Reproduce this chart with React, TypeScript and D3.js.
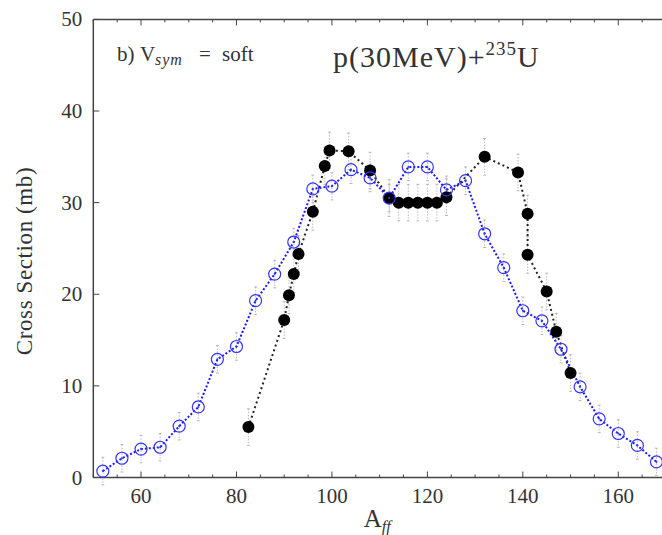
import React from "react";
import * as d3 from "d3";

const W = 662;
const H = 535;

// Black filled points (experiment)
const blackA = [82.5, 90, 91, 92, 93, 96, 98.5, 99.5, 103.5, 108, 112, 114, 116, 118, 120, 122, 124, 132, 139, 141, 141, 145, 147, 150];
const blackY = [5.5, 17.2, 19.9, 22.2, 24.4, 29.0, 34.0, 35.7, 35.6, 33.5, 30.5, 30.0, 30.0, 30.0, 30.0, 30.0, 30.6, 35.0, 33.3, 28.8, 24.3, 20.3, 15.9, 11.4];
const blackErr = 2.0;

// Blue open circles (model)
const blueA = [52, 56, 60, 64, 68, 72, 76, 80, 84, 88, 92, 96, 100, 104, 108, 112, 116, 120, 124, 128, 132, 136, 140, 144, 148, 152, 156, 160, 164, 168];
const blueY = [0.7, 2.1, 3.1, 3.3, 5.6, 7.7, 12.9, 14.3, 19.3, 22.2, 25.7, 31.5, 31.8, 33.6, 32.7, 30.5, 33.9, 33.9, 31.4, 32.4, 26.6, 22.9, 18.2, 17.1, 14.0, 9.9, 6.4, 4.8, 3.5, 1.7];
const blueErr = 1.5;

const xMajor = [60, 80, 100, 120, 140, 160];
const yMajor = [0, 10, 20, 30, 40, 50];

const FONT = "'Liberation Serif', 'Times New Roman', serif";

export default function App() {
  const left = 93.3, right = 666, top = 19.4, bottom = 477.5;
  const x = d3.scaleLinear().domain([50, 170]).range([left, right]);
  const y = d3.scaleLinear().domain([0, 50]).range([bottom, top]);

  const xMinor = d3.range(50, 171, 5);

  const line = d3.line<[number, number]>().x(d => x(d[0])).y(d => y(d[1]));
  const blackPts: [number, number][] = blackA.map((a, i) => [a, blackY[i]]);
  const bluePts: [number, number][] = blueA.map((a, i) => [a, blueY[i]]);

  const axisColor = "#444";
  const textColor = "#333";
  const ts = { fontFamily: FONT };

  const errBars = (pts: [number, number][], err: number, key: string) =>
    pts.map((p, i) => {
      const cx = x(p[0]);
      const y1 = y(p[1] + err), y2 = y(p[1] - err);
      return (
        <g key={key + i} stroke="#aaa" strokeWidth={0.8}>
          <line x1={cx} x2={cx} y1={y1} y2={y2} strokeDasharray="1.5,1.5" />
          <line x1={cx - 1.5} x2={cx + 1.5} y1={y1} y2={y1} />
          <line x1={cx - 1.5} x2={cx + 1.5} y1={y2} y2={y2} />
        </g>
      );
    });

  return (
    <svg width={W} height={H} style={{ position: "absolute", left: 0, top: 0, background: "#fff" }}>
      <rect x={0} y={0} width={W} height={H} fill="#fff" />
      {/* frame */}
      <line x1={left} x2={right} y1={top} y2={top} stroke={axisColor} strokeWidth={1.5} />
      <line x1={left} x2={right} y1={bottom} y2={bottom} stroke={axisColor} strokeWidth={1.5} />
      <line x1={left} x2={left} y1={top} y2={bottom} stroke={axisColor} strokeWidth={1.5} />
      {/* x ticks */}
      {xMinor.map(v => {
        const major = xMajor.includes(v);
        const len = major ? 6 : 3;
        return (
          <g key={"xt" + v} stroke={axisColor} strokeWidth={1}>
            <line x1={x(v)} x2={x(v)} y1={bottom} y2={bottom - len} />
            <line x1={x(v)} x2={x(v)} y1={top} y2={top + len} />
          </g>
        );
      })}
      {xMajor.map(v => (
        <text key={"xl" + v} x={x(v)} y={bottom + 25} textAnchor="middle" fontSize={21} fill={textColor} style={ts}>
          {v}
        </text>
      ))}
      {/* y ticks */}
      {yMajor.map(v => (
        <g key={"yt" + v}>
          <line x1={left} x2={left + 6} y1={y(v)} y2={y(v)} stroke={axisColor} strokeWidth={1} />
          <text x={left - 11} y={y(v) + 7} textAnchor="end" fontSize={21} fill={textColor} style={ts}>
            {v}
          </text>
        </g>
      ))}
      {/* axis labels */}
      <text transform={`translate(32, 261) rotate(-90)`} textAnchor="middle" fontSize={23} letterSpacing={0.6} fill={textColor} style={ts}>
        Cross Section (mb)
      </text>
      <text x={x(110) - 16} y={527} fontSize={25} fill={textColor} style={ts}>
        A<tspan fontStyle="italic" fontSize={16} dy={5}>ff</tspan>
      </text>

      {/* error bars */}
      {errBars(blackPts, blackErr, "be")}
      {errBars(bluePts, blueErr, "ue")}

      {/* lines */}
      <path d={line(blackPts) || ""} fill="none" stroke="#222" strokeWidth={2} strokeDasharray="2,3" />
      <path d={line(bluePts) || ""} fill="none" stroke="#1a1aff" strokeWidth={2} strokeDasharray="2,2" />

      {/* points */}
      {blackPts.map((p, i) => (
        <circle key={"bp" + i} cx={x(p[0])} cy={y(p[1])} r={6} fill="#000" />
      ))}
      {bluePts.map((p, i) => (
        <g key={"up" + i}>
          <circle cx={x(p[0])} cy={y(p[1])} r={6} fill="none" stroke="#3333ff" strokeWidth={1.2} />
          <circle cx={x(p[0])} cy={y(p[1])} r={1} fill="#3333ff" />
        </g>
      ))}

      {/* annotations */}
      <text y={61} fontSize={21} fill={textColor} style={ts}>
        <tspan x={117}>b)</tspan>
        <tspan x={140}>V</tspan>
        <tspan x={155} fontStyle="italic" fontSize={16} letterSpacing={1} dy={4}>sym</tspan>
        <tspan x={199} dy={-4}>=</tspan>
        <tspan x={222}>soft</tspan>
      </text>
      <text x={333} y={67} fontSize={30} letterSpacing={1} fill={textColor} style={ts}>
        p(30MeV)+<tspan fontSize={19} dy={-12}>235</tspan>
        <tspan dy={12}>U</tspan>
      </text>
    </svg>
  );
}
